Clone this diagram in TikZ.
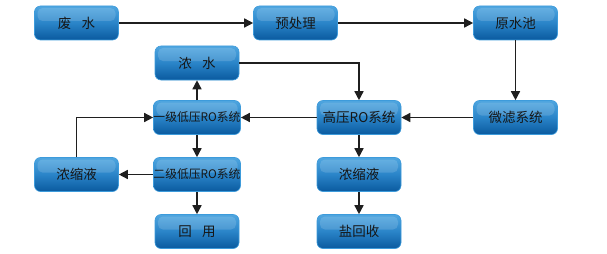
\documentclass[tikz,border=0pt]{standalone}
\usepackage{fontspec}
\setmainfont{Noto Sans CJK SC}
\usetikzlibrary{arrows.meta}
\definecolor{boxtop}{HTML}{4FA6E0}
\definecolor{boxmid}{HTML}{2A84C8}
\definecolor{boxbot}{HTML}{0A5A9F}
\definecolor{boxedge}{HTML}{3D9BDB}
\definecolor{txt}{HTML}{161616}
\tikzset{
  procbox/.style={rectangle, rounded corners=6pt, minimum width=84pt, minimum height=34pt,
    inner sep=0pt, top color=boxtop, bottom color=boxbot, middle color=boxmid,
    draw=boxedge, line width=0.6pt, text=txt, font=\fontsize{13.5}{13.5}\selectfont,
    path picture={\fill[white, opacity=0.14, rounded corners=5pt]
      ([xshift=3pt,yshift=-2pt]path picture bounding box.north west) rectangle
      ([xshift=-3pt,yshift=-15pt]path picture bounding box.north east);}},
  smallbox/.style={procbox, font=\fontsize{11.8}{11.8}\selectfont},
  flow/.style={line width=1.5pt, draw=black!88, -{Triangle[length=9pt,width=9pt]}}
}
\begin{document}
\begin{tikzpicture}[x=1pt,y=-1pt]
\useasboundingbox (0,0) rectangle (607,254);
\node[procbox] (fs) at (76.5,23) {废\hspace{0.75em}水};
\node[procbox] (yc) at (295.5,23) {预处理};
\node[procbox] (ys) at (515.5,23) {原水池};
\node[procbox] (ns) at (197,63) {浓\hspace{0.75em}水};
\node[smallbox] (l1) at (197,117.5) {一级低压RO系统};
\node[procbox] (hp) at (359,117.5) {高压RO系统};
\node[procbox] (wl) at (515.5,117.5) {微滤系统};
\node[procbox] (cl) at (76.5,174.5) {浓缩液};
\node[smallbox] (l2) at (197,174.5) {二级低压RO系统};
\node[procbox] (hy) at (197,231.5) {回\hspace{0.75em}用};
\node[procbox] (cr) at (359,174.5) {浓缩液};
\node[procbox] (yh) at (359,231.5) {盐回收};
\draw[flow] (fs) -- (yc);
\draw[flow] (yc) -- (ys);
\draw[flow] (ys) -- (wl);
\draw[flow] (wl) -- (hp);
\draw[flow] (hp) -- (l1);
\draw[flow] (ns.east) -| (hp.north);
\draw[flow] (l1) -- (ns);
\draw[flow] (l1) -- (l2);
\draw[flow] (l2) -- (cl);
\draw[flow] (cl.north) |- (l1.west);
\draw[flow] (l2) -- (hy);
\draw[flow] (hp) -- (cr);
\draw[flow] (cr) -- (yh);
\end{tikzpicture}
\end{document}
